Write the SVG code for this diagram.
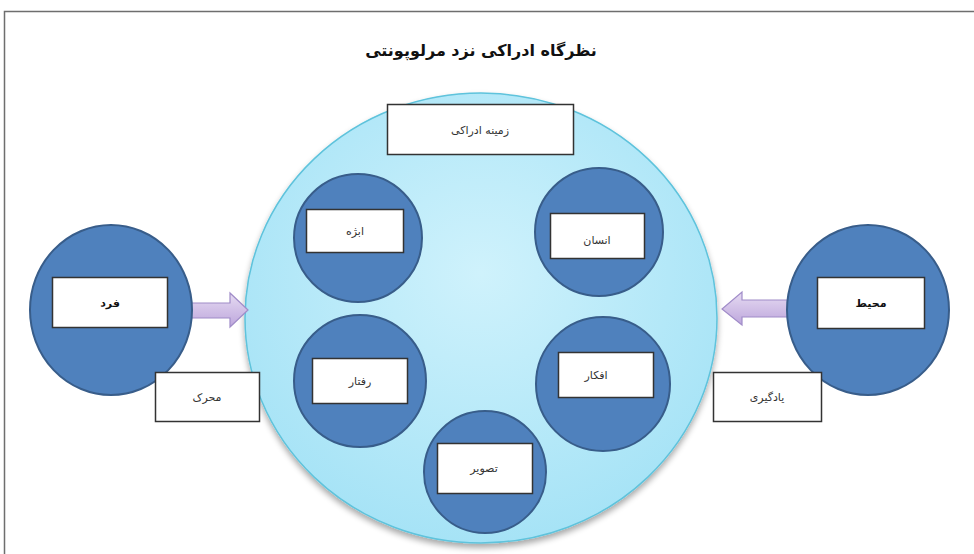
<svg xmlns="http://www.w3.org/2000/svg" width="974" height="554" viewBox="0 0 974 554">
<defs>
<radialGradient id="bigFill" cx="50%" cy="40%" r="60%">
<stop offset="0" stop-color="#cff2fc"/>
<stop offset="1" stop-color="#a6e3f6"/>
</radialGradient>
<linearGradient id="arrowFill" x1="0" y1="0" x2="0" y2="1">
<stop offset="0" stop-color="#e6dbf2"/>
<stop offset="1" stop-color="#bda6dc"/>
</linearGradient>
<filter id="shadow" x="-10%" y="-10%" width="120%" height="125%">
<feGaussianBlur in="SourceAlpha" stdDeviation="3"/>
<feOffset dx="0" dy="4"/>
<feComponentTransfer><feFuncA type="linear" slope="0.35"/></feComponentTransfer>
<feMerge><feMergeNode/><feMergeNode in="SourceGraphic"/></feMerge>
</filter>
</defs>
<style>
.frame{fill:none;stroke:#6e6e6e;stroke-width:1.5}
.big{fill:url(#bigFill);stroke:#5ec3dc;stroke-width:1.5}
.node{fill:#4f81bd;stroke:#385d8a;stroke-width:2}
.box{fill:#ffffff;stroke:#333333;stroke-width:1.5}
.lbl{font-family:"DejaVu Sans","Noto Sans",sans-serif;font-size:11px;fill:#333333;text-anchor:middle;dominant-baseline:central}
.bold{font-weight:bold;fill:#111111}
.title{font-family:"DejaVu Sans","Noto Sans",sans-serif;font-size:16px;font-weight:bold;fill:#111111;text-anchor:middle;dominant-baseline:central}
.arrow{fill:url(#arrowFill);stroke:#a08cc8;stroke-width:1.2}
</style>
<rect width="974" height="554" fill="#ffffff"/>
<rect class="frame" x="4.5" y="11.5" width="1000" height="600"/>
<text class="title" x="481" y="50" direction="rtl">نظرگاه ادراکی نزد مرلوپونتی</text>

<g id="context">
<ellipse class="big" cx="481" cy="318" rx="236" ry="225" filter="url(#shadow)"/>
<rect class="box" x="387.5" y="104.5" width="186" height="50"/>
<text class="lbl" x="480" y="130" direction="rtl">زمینه ادراکی</text>
</g>

<g id="connectors">
<path class="arrow" d="M190,303 L230,303 L230,293 L248,310 L230,327 L230,318 L190,318 Z"/>
<path class="arrow" d="M788,300 L742,300 L742,292 L722,309 L742,325 L742,317 L788,317 Z"/>
</g>

<g id="fard">
<ellipse class="node" cx="111" cy="310" rx="81" ry="85"/>
<rect class="box" x="52.5" y="277.5" width="115" height="50"/>
<text class="lbl bold" x="110" y="303" direction="rtl">فرد</text>
</g>

<g id="moharrek">
<rect class="box" x="155.5" y="372.5" width="104" height="49"/>
<text class="lbl" x="207" y="397" direction="rtl">محرک</text>
</g>

<g id="mohit">
<ellipse class="node" cx="868" cy="310" rx="81" ry="85"/>
<rect class="box" x="817.5" y="277.5" width="107" height="51"/>
<text class="lbl bold" x="871" y="303" direction="rtl">محیط</text>
</g>

<g id="yadgiri">
<rect class="box" x="713.5" y="372.5" width="108" height="49"/>
<text class="lbl" x="767" y="397" direction="rtl">یادگیری</text>
</g>

<g id="abzhe">
<circle class="node" cx="358" cy="238" r="64"/>
<rect class="box" x="306.5" y="209.5" width="97" height="43"/>
<text class="lbl" x="355" y="231" direction="rtl">ابژه</text>
</g>

<g id="ensan">
<circle class="node" cx="599" cy="232" r="64"/>
<rect class="box" x="550.5" y="213.5" width="94" height="45"/>
<text class="lbl" x="597" y="240" direction="rtl">انسان</text>
</g>

<g id="raftar">
<circle class="node" cx="360" cy="381" r="66"/>
<rect class="box" x="312.5" y="358.5" width="95" height="45"/>
<text class="lbl" x="360" y="381" direction="rtl">رفتار</text>
</g>

<g id="afkar">
<circle class="node" cx="603" cy="384" r="67"/>
<rect class="box" x="558.5" y="352.5" width="95" height="45"/>
<text class="lbl" x="596" y="375" direction="rtl">افکار</text>
</g>

<g id="tasvir">
<circle class="node" cx="485" cy="472" r="61"/>
<rect class="box" x="437.5" y="443.5" width="95" height="50"/>
<text class="lbl" x="484" y="468" direction="rtl">تصویر</text>
</g>
</svg>
